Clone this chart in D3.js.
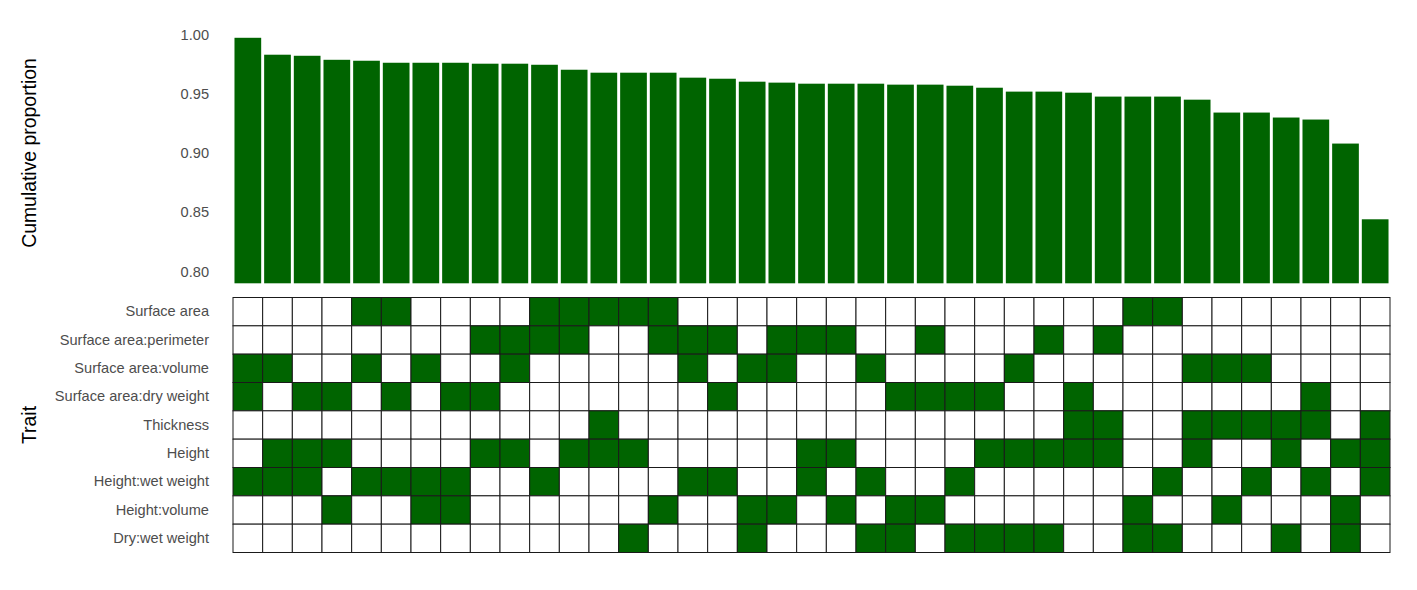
<!DOCTYPE html>
<html>
<head>
<meta charset="utf-8">
<script src="https://cdn.jsdelivr.net/npm/d3@7"></script>
<style>
  html, body { margin: 0; padding: 0; background: #fff; }
  svg { display: block; font-family: "Liberation Sans", Arial, sans-serif; }
</style>
</head>
<body>
<svg id="chart" width="1417" height="590"></svg>
<script>
// ---- data ----
const combos = d3.range(1, 40).map(i => "C" + i);
const proportions = [
  0.9975, 0.9832, 0.9823, 0.9789, 0.9781, 0.9764, 0.9764, 0.9764, 0.9756, 0.9756,
  0.9747, 0.9705, 0.9680, 0.9680, 0.9680, 0.9638, 0.9629, 0.9604, 0.9596, 0.9587,
  0.9587, 0.9587, 0.9579, 0.9579, 0.9570, 0.9553, 0.9520, 0.9520, 0.9511, 0.9478,
  0.9478, 0.9478, 0.9452, 0.9343, 0.9343, 0.9301, 0.9284, 0.9081, 0.8441
];
const traits = [
  "Surface area", "Surface area:perimeter", "Surface area:volume",
  "Surface area:dry weight", "Thickness", "Height", "Height:wet weight",
  "Height:volume", "Dry:wet weight"
];
// 1-based column indices of combinations that include each trait
const included = [
  [5, 6, 11, 12, 13, 14, 15, 31, 32],
  [9, 10, 11, 12, 15, 16, 17, 19, 20, 21, 24, 28, 30],
  [1, 2, 5, 7, 10, 16, 18, 19, 22, 27, 33, 34, 35],
  [1, 3, 4, 6, 8, 9, 17, 23, 24, 25, 26, 29, 37],
  [13, 29, 30, 33, 34, 35, 36, 37, 39],
  [2, 3, 4, 9, 10, 12, 13, 14, 20, 21, 26, 27, 28, 29, 30, 33, 36, 38, 39],
  [1, 2, 3, 5, 6, 7, 8, 11, 16, 17, 20, 22, 25, 32, 35, 37, 39],
  [4, 7, 8, 15, 18, 19, 21, 23, 24, 31, 34, 38],
  [14, 18, 22, 23, 25, 26, 27, 28, 31, 32, 36, 38]
];
const yTicks = [0.80, 0.85, 0.90, 0.95, 1.00];

// ---- layout ----
const svg = d3.select("#chart");
const left = 233, right = 1390;
const fill = "#006400";
const labelColor = "#4d4d4d";

// bar panel
const xBar = d3.scaleBand().domain(combos).range([left, right]).paddingInner(0.1).paddingOuter(0.05);
const y = d3.scaleLinear().domain([0.79, 1.01]).range([283.3, 23]);

svg.append("g").selectAll("rect")
  .data(proportions)
  .join("rect")
  .attr("x", (d, i) => xBar(combos[i]))
  .attr("width", xBar.bandwidth())
  .attr("y", d => y(d))
  .attr("height", d => y(0.79) - y(d))
  .attr("fill", fill);

const yAxis = svg.append("g")
  .attr("transform", `translate(${left - 24},0)`)
  .call(d3.axisLeft(y).tickValues(yTicks).tickFormat(d3.format(".2f")).tickSize(0).tickPadding(0));
yAxis.select(".domain").remove();
yAxis.selectAll("text").attr("fill", labelColor).style("font-size", "14.6px");

svg.append("text")
  .attr("transform", `translate(36,153) rotate(-90)`)
  .attr("text-anchor", "middle")
  .style("font-size", "19.4px")
  .attr("fill", "#000")
  .text("Cumulative proportion");

// matrix panel
const xCell = d3.scaleBand().domain(combos).range([left, right]);
const yCell = d3.scaleBand().domain(traits).range([297.5, 552.5]);

const cells = [];
traits.forEach((t, r) => {
  combos.forEach((c, j) => {
    cells.push({ trait: t, combo: c, on: included[r].includes(j + 1) });
  });
});

svg.append("g").selectAll("rect")
  .data(cells)
  .join("rect")
  .attr("x", d => xCell(d.combo))
  .attr("y", d => yCell(d.trait))
  .attr("width", xCell.bandwidth())
  .attr("height", yCell.bandwidth())
  .attr("fill", d => d.on ? fill : "#ffffff")
  .attr("stroke", "#1a1a1a")
  .attr("stroke-width", 1);

const tAxis = svg.append("g")
  .attr("transform", `translate(${left - 24},0)`)
  .call(d3.axisLeft(yCell).tickSize(0).tickPadding(0));
tAxis.select(".domain").remove();
tAxis.selectAll("text").attr("fill", labelColor).style("font-size", "14.6px");

svg.append("text")
  .attr("transform", `translate(36,425) rotate(-90)`)
  .attr("text-anchor", "middle")
  .style("font-size", "19.4px")
  .attr("fill", "#000")
  .text("Trait");
</script>
</body>
</html>
